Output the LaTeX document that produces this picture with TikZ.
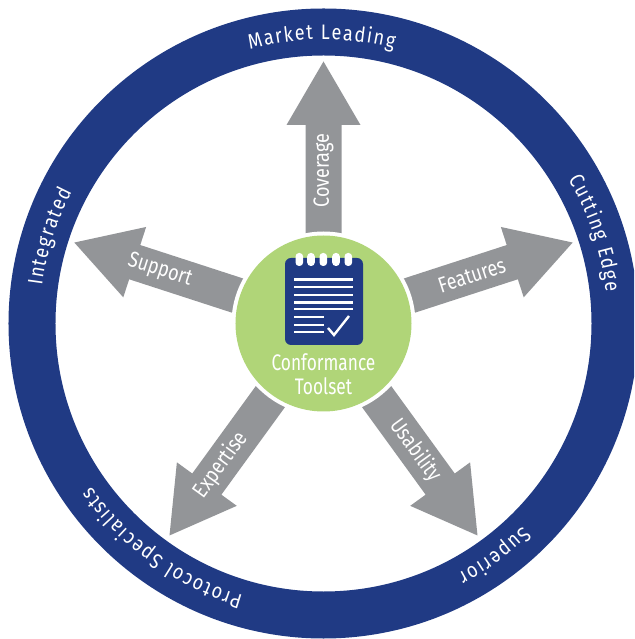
\documentclass[tikz,border=0pt]{standalone}
\usepackage{fontspec}
\usetikzlibrary{decorations.text}
\setsansfont{Fira Sans}[FakeStretch=0.82]
\newfontfamily\hubfont{Fira Sans}[FakeStretch=0.77]
\newfontfamily\ringfont{Fira Sans}[FakeStretch=0.86]
\definecolor{ringblue}{HTML}{203A84}
\definecolor{arrowgray}{HTML}{939598}
\definecolor{hubgreen}{HTML}{B0D578}
\tikzset{
  armlabel/.style={text=white, font=\sffamily\fontsize{22}{22}\selectfont, inner sep=0pt},
  hublabel/.style={text=white, font=\hubfont\fontsize{22.5}{22.5}\selectfont, inner sep=0pt},
  padline/.style={white, line width=2.6pt}
}
\begin{document}
\begin{tikzpicture}[x=1pt, y=1pt]
\useasboundingbox (-323.5,-315.5) rectangle (310.5,323.5);
\clip (-323.5,-315.5) rectangle (310.5,323.5);

% outer ring
\draw[ringblue, line width=47pt] (0,0) circle (291.5);
\foreach \ang/\word in {90.5/Market Leading, 18.5/Cutting Edge, -53.5/Superior, -125.5/Protocol Specialists, 162.5/Integrated}
  \path[decorate, decoration={text along path, text align=center,
      text={|\ringfont\fontsize{21}{21}\selectfont\color{white}\kern1.5pt|\word}}]
    ({\ang+55}:284) arc ({\ang+55}:{\ang-55}:284);

% arrows
\foreach \ang/\word/\dist/\tilt in {90/Coverage/153/90, 18/Features/156/18, -54/Usability/157/-54, -126/Expertise/175/54, 162/Support/172/-18} {
  \fill[arrowgray, rotate=\ang] (80,-18) -- (198.5,-18) -- (198.5,-37) -- (262,0) -- (198.5,37) -- (198.5,18) -- (80,18) -- cycle;
  \node[armlabel, rotate=\tilt] (\word) at (\ang:\dist) {\word};
}

% hub
\fill[white] (0,0) circle (92);
\fill[hubgreen] (0,0) circle (88);

% notepad
\fill[ringblue, rounded corners=6pt] (-38.5,65.5) rectangle (39.5,-21.5);
\foreach \x in {-24.2,-12.5,-0.2,12.5,24.8}
  \fill[white, rounded corners=3.5pt] (\x-3.8,70.5) rectangle (\x+3.8,57.5);
\foreach \y in {44.2,36.5,28.5,21,14.5}
  \draw[padline] (-29.5,\y) -- (29.5,\y);
\foreach \y in {6.5,-1.5,-8.5}
  \draw[padline] (-29.5,\y) -- (0.5,\y);
\draw[white, line width=2.4pt] (4.5,-4.5) -- (10.5,-11.5) -- (25.5,7.5);

\node[hublabel] (conformance) at (0,-38.5) {Conformance};
\node[hublabel] (toolset) at (0,-62.5) {Toolset};
\end{tikzpicture}
\end{document}
